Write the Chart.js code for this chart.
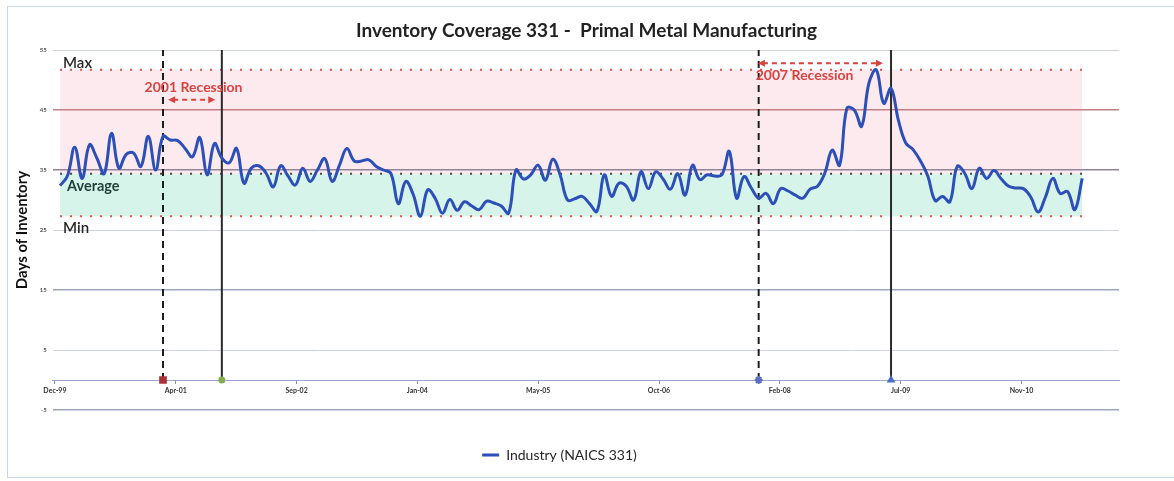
<!DOCTYPE html>
<html>
<head>
<meta charset="utf-8">
<title>Inventory Coverage 331 - Primal Metal Manufacturing</title>
<script src="https://cdn.jsdelivr.net/npm/chart.js@4.4.1/dist/chart.umd.min.js"></script>
<style>
  html, body { margin: 0; padding: 0; background: #fff; }
  #wrap { position: relative; width: 1174px; height: 481px; overflow: hidden; }
  #frame { position: absolute; left: 7px; top: 6px; right: -10px; bottom: 3px; border: 1px solid #c9d7ea; }
  canvas { position: absolute; left: 0; top: 0; }
</style>
</head>
<body>
<div id="wrap">
  <div id="frame"></div>
  <canvas id="chart" width="1174" height="481"></canvas>
</div>
<script>
// Days of inventory, monthly from Jan-00 to Aug-11
const inventoryDays = [
  32.4, 34.0, 38.8, 33.6, 39.2, 37.0, 34.4, 41.1, 35.3, 37.6,
  37.8, 35.6, 40.6, 35.0, 40.6, 40.0, 39.9, 38.6, 37.2, 40.4,
  34.2, 39.4, 37.0, 36.2, 38.6, 32.8, 35.3, 35.7, 34.5, 32.2,
  35.7, 34.0, 32.5, 35.3, 33.1, 35.0, 36.9, 33.1, 35.8, 38.6,
  36.5, 36.5, 36.7, 35.6, 35.0, 34.4, 29.4, 33.1, 31.0, 27.3,
  31.7, 30.3, 27.8, 30.1, 28.3, 29.7, 29.0, 28.4, 29.8, 29.5,
  29.0, 27.8, 35.0, 33.5, 34.2, 35.8, 33.3, 36.8, 34.2, 30.0,
  30.2, 30.6, 29.4, 28.1, 34.2, 30.6, 32.8, 32.3, 30.0, 34.7,
  31.9, 34.7, 33.5, 31.8, 34.4, 30.8, 35.8, 33.4, 34.2, 34.0,
  34.2, 38.1, 30.3, 33.9, 32.0, 30.3, 31.1, 29.4, 31.9, 31.5,
  30.8, 30.3, 31.8, 32.3, 34.5, 38.3, 35.8, 45.3, 45.0, 42.3,
  49.5, 51.7, 46.1, 48.6, 43.3, 39.5, 38.4, 36.5, 34.0, 29.9,
  30.6, 29.7, 35.6, 34.5, 31.9, 35.3, 33.6, 34.9, 33.5, 32.3,
  32.0, 31.9, 30.5, 28.0, 30.5, 33.6, 31.1, 31.4, 28.4, 33.6
];
// months counted from Dec-99 (= 0)
const monthIndex = inventoryDays.map((v, i) => i + 1);

// x tick labels and where they sit (in months from Dec-99)
const tickLabels = ['Dec-99', 'Apr-01', 'Sep-02', 'Jan-04', 'May-05', 'Oct-06', 'Feb-08', 'Jul-09', 'Nov-10'];
const tickMonths = [0.3, 16.73, 33.16, 49.59, 66.02, 82.45, 98.88, 115.31, 131.74];
const yTicks = [-5, 5, 15, 25, 35, 45, 55];

// recessions: start (dashed) and end (solid) months
const recessionNames = ['2001 Recession', '2007 Recession'];
const recessionStart = [15, 96];
const recessionEnd = [23, 114];

const FONT = 'Lato, "Liberation Sans", sans-serif';
Chart.defaults.font.family = FONT;

const maxDays = Math.max(...inventoryDays);
const minDays = Math.min(...inventoryDays);
const avgDays = inventoryDays.reduce((a, b) => a + b, 0) / inventoryDays.length;
const firstM = monthIndex[0];
const lastM = monthIndex[monthIndex.length - 1];

function flatLine(v) {
  return [{ x: firstM, y: v }, { x: lastM, y: v }];
}
function vLine(m) {
  return [{ x: m, y: 0 }, { x: m, y: 55 }];
}

function gridColor(v) {
  if (v === 45) return '#c47e86';
  if (v === 35) return '#8f8699';
  if (v === 55 || v === 25 || v === 5) return '#cfd4dc';
  return '#9aa7ba';
}

// text notes and arrows drawn over the plot
const notesPlugin = {
  id: 'notes',
  afterDatasetsDraw(chart) {
    const { ctx, scales: { x, y } } = chart;
    const notes = [
      { text: 'Max', m: 1.4, v: 52.8, color: '#262626', weight: '600', size: 15 },
      { text: 'Average', m: 1.95, v: 32.3, color: '#23423a', weight: 'bold', size: 14.5 },
      { text: 'Min', m: 1.4, v: 25.3, color: '#262626', weight: '600', size: 15 },
      { text: recessionNames[0], m: 12.5, v: 48.7, color: '#d8433f', weight: 'bold', size: 14 },
      { text: recessionNames[1], m: 95.6, v: 50.7, color: '#d8433f', weight: 'bold', size: 14 }
    ];
    ctx.save();
    ctx.textBaseline = 'middle';
    ctx.textAlign = 'left';
    notes.forEach(n => {
      ctx.font = `${n.weight} ${n.size}px ${FONT}`;
      ctx.fillStyle = n.color;
      ctx.fillText(n.text, x.getPixelForValue(n.m), y.getPixelForValue(n.v));
    });

    const arrows = [
      { from: 15.7, to: 22.1, v: 46.7 },
      { from: 95.9, to: 112.9, v: 52.8 }
    ];
    ctx.strokeStyle = '#d8433f';
    ctx.fillStyle = '#d8433f';
    ctx.lineWidth = 2;
    arrows.forEach(a => {
      const x1 = x.getPixelForValue(a.from);
      const x2 = x.getPixelForValue(a.to);
      const yy = y.getPixelForValue(a.v);
      ctx.setLineDash([5, 4]);
      ctx.beginPath();
      ctx.moveTo(x1 + 5, yy);
      ctx.lineTo(x2 - 5, yy);
      ctx.stroke();
      ctx.setLineDash([]);
      [[x1, 1], [x2, -1]].forEach(([px, dir]) => {
        ctx.beginPath();
        ctx.moveTo(px, yy);
        ctx.lineTo(px + 7 * dir, yy - 3.5);
        ctx.lineTo(px + 7 * dir, yy + 3.5);
        ctx.closePath();
        ctx.fill();
      });
    });
    ctx.restore();
  }
};

// title sits a little right of the plot centre, legend sits on it
const shiftTitle = {
  id: 'shiftTitle',
  afterLayout(chart) {
    if (chart.titleBlock) {
      chart.titleBlock.left += 27;
      chart.titleBlock.right += 27;
    }
  }
};

const ctx = document.getElementById('chart').getContext('2d');
new Chart(ctx, {
  type: 'line',
  data: {
    datasets: [
      {
        label: 'Industry (NAICS 331)',
        data: monthIndex.map((m, i) => ({ x: m, y: inventoryDays[i] })),
        borderColor: '#2c4fb8',
        backgroundColor: '#2c4fb8',
        borderWidth: 3,
        pointRadius: 0,
        tension: 0.4,
        fill: false,
        order: 0
      },
      {
        label: 'Max',
        data: flatLine(maxDays),
        borderColor: '#e0504a',
        borderWidth: 2,
        borderDash: [2, 8],
        pointRadius: 0,
        fill: '+1',
        backgroundColor: 'rgba(250, 205, 218, 0.42)',
        order: 2
      },
      {
        label: 'Average',
        data: flatLine(avgDays),
        borderColor: '#3a4a40',
        borderWidth: 2,
        borderDash: [2, 8],
        pointRadius: 0,
        fill: '+1',
        backgroundColor: 'rgba(190, 238, 222, 0.62)',
        order: 2
      },
      {
        label: 'Min',
        data: flatLine(minDays),
        borderColor: '#e0504a',
        borderWidth: 2,
        borderDash: [2, 8],
        pointRadius: 0,
        fill: false,
        order: 2
      },
      {
        label: 'Start 2001',
        data: vLine(recessionStart[0]),
        borderColor: '#1e1e1e',
        borderWidth: 2,
        borderDash: [7, 5],
        pointRadius: [4, 0],
        pointStyle: 'rect',
        pointBackgroundColor: '#a8323a',
        pointBorderColor: '#a8323a',
        order: 1
      },
      {
        label: 'End 2001',
        data: vLine(recessionEnd[0]),
        borderColor: '#2a2a2a',
        borderWidth: 2,
        pointRadius: [2.5, 0],
        pointBackgroundColor: '#7fae4a',
        pointBorderColor: '#7fae4a',
        order: 1
      },
      {
        label: 'Start 2007',
        data: vLine(recessionStart[1]),
        borderColor: '#1e1e1e',
        borderWidth: 2,
        borderDash: [7, 5],
        pointRadius: [4, 0],
        pointStyle: 'star',
        pointBackgroundColor: '#5b6fc0',
        pointBorderColor: '#5b6fc0',
        order: 1
      },
      {
        label: 'End 2009',
        data: vLine(recessionEnd[1]),
        borderColor: '#2a2a2a',
        borderWidth: 2,
        pointRadius: [3, 0],
        pointStyle: 'triangle',
        pointBackgroundColor: '#4a6fc0',
        pointBorderColor: '#4a6fc0',
        order: 1
      }
    ]
  },
  options: {
    responsive: false,
    animation: false,
    layout: { padding: { top: 0, right: 55, bottom: 9, left: 0 } },
    plugins: {
      filler: { drawTime: 'beforeDraw' },
      tooltip: { enabled: false },
      title: {
        display: true,
        text: 'Inventory Coverage 331 -  Primal Metal Manufacturing',
        color: '#222',
        font: { size: 19, weight: 'bold' },
        padding: { top: 19.6, bottom: 7.6 }
      },
      legend: {
        position: 'bottom',
        labels: {
          filter: item => item.datasetIndex === 0,
          usePointStyle: true,
          pointStyle: 'line',
          pointStyleWidth: 17,
          color: '#262626',
          font: { size: 14 },
          padding: 38
        }
      }
    },
    scales: {
      x: {
        type: 'linear',
        min: 0,
        max: 145,
        position: { y: 0 },
        afterBuildTicks: axis => { axis.ticks = tickMonths.map(v => ({ value: v })); },
        ticks: {
          callback: (v, i) => tickLabels[i],
          autoSkip: false,
          maxRotation: 0,
          padding: 4,
          color: '#333',
          font: { size: 7, weight: 'bold' }
        },
        grid: { drawOnChartArea: false, tickLength: 3, color: '#8190b8' },
        border: { color: '#9aa6cc', width: 1, dash: [3, 2] }
      },
      y: {
        min: -5,
        max: 55,
        afterBuildTicks: axis => { axis.ticks = yTicks.map(v => ({ value: v })); },
        afterFit: scale => { scale.width = 52.7; },
        ticks: { padding: 6, color: '#555', font: { size: 6, weight: 'bold' } },
        grid: {
          drawTicks: false,
          color: c => gridColor(c.tick.value),
          lineWidth: c => (c.tick.value === 55 || c.tick.value === 25 || c.tick.value === 5) ? 1 : 1.4
        },
        border: { display: false },
        title: {
          display: true,
          text: 'Days of Inventory',
          color: '#111',
          font: { size: 15, weight: 'bold' },
          padding: { top: 13, bottom: 0 }
        }
      }
    }
  },
  plugins: [notesPlugin, shiftTitle]
});
</script>
</body>
</html>
